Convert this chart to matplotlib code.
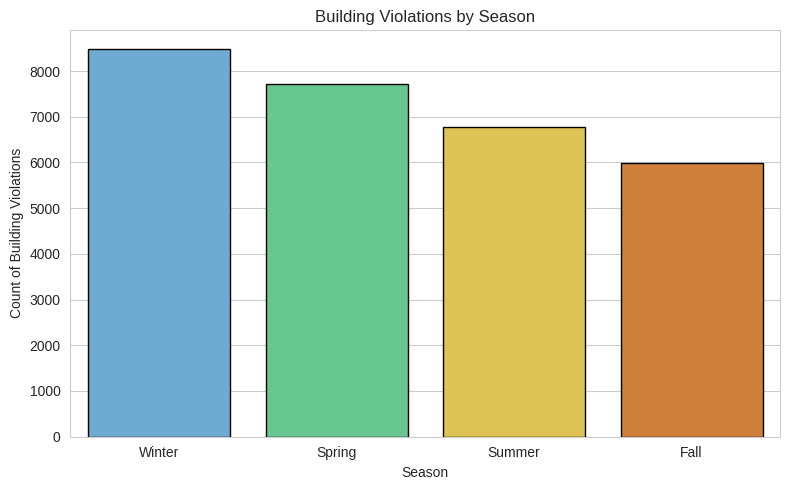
import pandas as pd
import matplotlib
matplotlib.use('Agg')
import matplotlib.pyplot as plt
import seaborn as sns

# 데이터
seasons = ['Winter', 'Spring', 'Summer', 'Fall']
counts = [8475, 7710, 6772, 5995]
colors = ['#5DADE2', '#58D68D', '#F4D03F', '#E67E22']

df = pd.DataFrame({'Season': seasons, 'Count': counts})

sns.set_style('whitegrid')
# 폰트 설정 (set_style 이후)
plt.rcParams['font.family'] = ['Liberation Sans', 'DejaVu Sans']

plt.figure(figsize=(7.9, 4.9), dpi=100)
sns.barplot(data=df, x='Season', y='Count', hue='Season', palette=colors,
            edgecolor='black', legend=False)

plt.title('Building Violations by Season')
plt.xlabel('Season')
plt.ylabel('Count of Building Violations')
plt.subplots_adjust(left=0.089, right=0.9877, top=0.9388, bottom=0.1088)
plt.savefig('out.png', dpi=100)
